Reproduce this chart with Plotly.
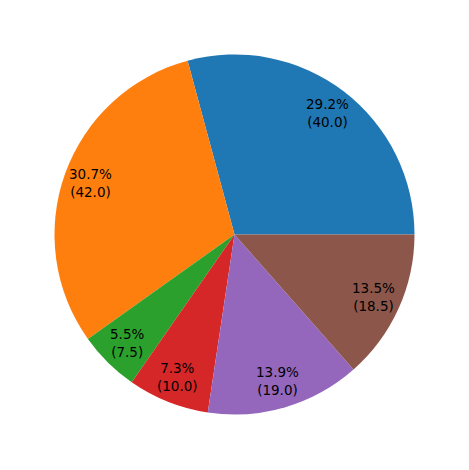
import math
import plotly.graph_objects as go

# slice values, counterclockwise from 3 o'clock
values = [40.0, 42.0, 7.5, 10.0, 19.0, 18.5]
colors = ["#1f77b4", "#ff7f0e", "#2ca02c", "#d62728", "#9467bd", "#8c564b"]

W, H = 469, 470
off = 8.0                          # page body margin shifts the figure
cx, cy, r = 234.5 - off, 234.5 - off, 180.0   # pixel centre (from top-left) and radius
pct_dist = 0.85

total = sum(values)

fig = go.Figure(go.Pie(
    values=values,
    marker=dict(colors=colors, line=dict(width=0)),
    sort=False,
    direction="counterclockwise",
    # plotly offsets the first slice when counterclockwise
    rotation=90 - values[0] / total * 360,
    textinfo="none",
    hoverinfo="none",
    showlegend=False,
    domain=dict(x=[(cx - r) / W, (cx + r) / W],
                y=[(H - cy - r) / H, (H - cy + r) / H]),
))

# matplotlib-style autopct labels at 0.85 of the radius
start = 0.0
for v in values:
    mid = math.radians((start + v / 2) / total * 360)
    start += v
    x = (cx + pct_dist * r * math.cos(mid)) / W
    y = (H - cy + pct_dist * r * math.sin(mid)) / H
    fig.add_annotation(
        x=x, y=y, xref="paper", yref="paper",
        text=f"{v / total * 100:.1f}%<br>({v:.1f})",
        showarrow=False, xanchor="center", yanchor="middle",
        font=dict(family="DejaVu Sans", size=13.5, color="black"),
    )

fig.update_layout(
    width=W, height=H,
    margin=dict(l=0, r=0, t=0, b=0),
    paper_bgcolor="white", plot_bgcolor="white",
)

fig.write_html("out.html")
